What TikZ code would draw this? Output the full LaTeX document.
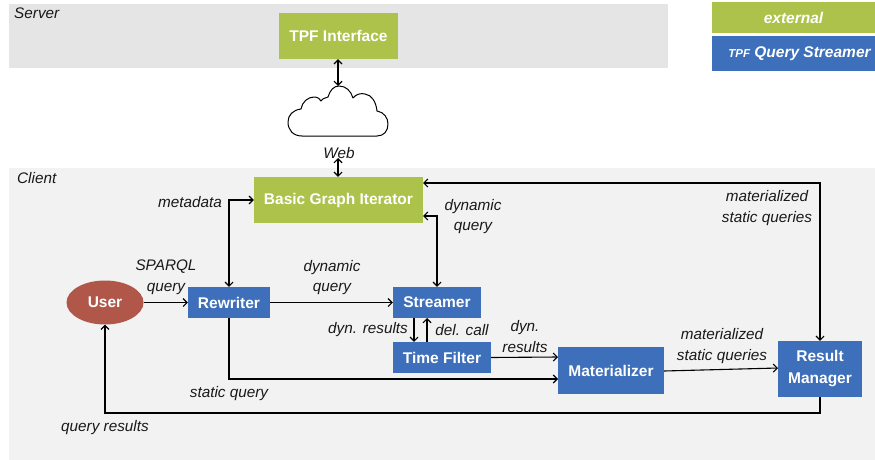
\documentclass[tikz,border=0pt]{standalone}
\usepackage{fontspec}
\setmainfont{Liberation Sans}
\usetikzlibrary{arrows.meta,shapes.geometric}
\definecolor{grnbox}{HTML}{ADC24A}
\definecolor{blubox}{HTML}{3D6FBA}
\definecolor{redbox}{HTML}{B0574A}
\definecolor{srv}{HTML}{E5E5E5}
\definecolor{cli}{HTML}{F2F2F2}
\tikzset{
  box/.style={rectangle,inner sep=0pt,text=white,font=\fontsize{15.5}{22}\selectfont\bfseries,align=center},
  ext/.style={box,fill=grnbox},
  own/.style={box,fill=blubox},
  lbl/.style={inner sep=0pt,align=center,text=black!90,font=\fontsize{15.3}{20.5}\selectfont\itshape},
  conn/.style={draw=black,line width=1.1pt,>={Straight Barb[length=4pt,width=8pt]}},
  band/.style={inner sep=0pt,rectangle}
}
\begin{document}
\begin{tikzpicture}[x=1pt,y=-1pt]
\useasboundingbox (0,0) rectangle (875,460);
\fill[white] (0,0) rectangle (875,460);
\node[band,fill=srv,minimum width=659pt,minimum height=64pt] (server) at (338.5,36) {};
\node[band,fill=cli,minimum width=866pt,minimum height=292pt] (client) at (442,314) {};
\node[lbl,anchor=west] (serverl) at (14,13) {Server};
\node[lbl,anchor=west] (clientl) at (17,178) {Client};
\node[ext,minimum width=163pt,minimum height=31pt] (legext) at (793.5,17.5) {\itshape external};
\node[own,minimum width=163pt,minimum height=35pt] (legown) at (793.5,53.5) {\hspace*{12pt}\itshape{\fontsize{11.5}{12}\selectfont TPF} Query Streamer};
\node[ext,minimum width=119pt,minimum height=46pt] (tpf) at (338.5,36) {TPF Interface};
\node[ext,minimum width=169pt,minimum height=46pt] (bgi) at (338.5,200) {Basic Graph Iterator};
\node[ellipse,inner sep=0pt,fill=redbox,text=white,font=\fontsize{15.5}{17}\selectfont\bfseries,minimum width=77pt,minimum height=44pt] (user) at (105,302.5) {User};
\node[own,minimum width=82pt,minimum height=31pt] (rew) at (229,302.5) {Rewriter};
\node[own,minimum width=88pt,minimum height=31pt] (str) at (437,302.5) {Streamer};
\node[own,minimum width=98pt,minimum height=31pt] (tf) at (442,357.5) {Time Filter};
\node[own,minimum width=106pt,minimum height=47pt] (mat) at (611,370.5) {Materializer};
\node[own,minimum width=84pt,minimum height=56pt] (rm) at (820,369) {\rule{0pt}{3pt}Result\\Manager};
% cloud
\draw[fill=white,line width=1pt,line join=round]
  (302,136) .. controls (293,136) and (288,130) .. (288,122)
  .. controls (288,115) and (293,110) .. (301,109)
  .. controls (302,102) and (308,97) .. (314,97)
  .. controls (318,97) and (320,99) .. (321,101)
  .. controls (323,98) and (326,98) .. (328,97)
  .. controls (330,90) and (334,86) .. (339,86)
  .. controls (346,86) and (351,91) .. (353,98)
  .. controls (356,94) and (361,93) .. (365,94)
  .. controls (372,95) and (376,102) .. (377,111)
  .. controls (384,112) and (388,118) .. (388,124)
  .. controls (388,131) and (384,136) .. (377,136)
  -- cycle;
\coordinate (cloudtop) at (338,86);
\coordinate (webtop) at (338,158);
\node[lbl] (web) at (339,153) {Web};
\draw[conn,<->] (tpf.south -| cloudtop) -- (cloudtop);
\draw[conn,<->] (webtop) -- (bgi.north -| webtop);
% connectors
\draw[conn,->] (user) -- (rew);
\draw[conn,->] (rew) -- (str);
\draw[conn,<->] (rew.north) |- (bgi.west);
\coordinate (bgiS) at (423,216);
\draw[conn,<->] (str.north) |- (bgiS);
\coordinate (bgiR) at (423,183);
\draw[conn,<->] (rm.north) |- (bgiR);
\coordinate (sa) at (414,318); \coordinate (sb) at (427,318);
\draw[conn,->] (sa) -- (sa |- tf.north);
\draw[conn,->] (sb |- tf.north) -- (sb);
\coordinate (matA) at (558,379);
\draw[conn,->] (rew.south) |- (matA);
\coordinate (matB) at (558,357);
\draw[conn,->] (tf.east) -- (matB);
\coordinate (rmA) at (778,368);
\coordinate (matC) at (664,371);
\draw[conn,->] (matC) -- (rmA);
\coordinate (lowbar) at (105,413);
\draw[conn,->] (rm.south) |- (lowbar) -- (user.south);
% labels
\node[lbl] (l1) at (190,202) {metadata};
\node[lbl] (l2) at (166,277) {SPARQL\\query};
\node[lbl] (l3) at (332,277.5) {dynamic\\query};
\node[lbl] (l4) at (473,216.5) {dynamic\\query};
\node[lbl] (l5) at (767,208) {materialized\\static queries};
\node[lbl] (l6) at (368,329.5) {dyn. results};
\node[lbl] (l7) at (462,330.5) {del. call};
\node[lbl] (l8) at (525,336.5) {dyn.\\results};
\node[lbl] (l9) at (722,346) {materialized\\static queries};
\node[lbl] (l10) at (229,394) {static query};
\node[lbl] (l11) at (105,427.5) {query results};
\end{tikzpicture}
\end{document}
